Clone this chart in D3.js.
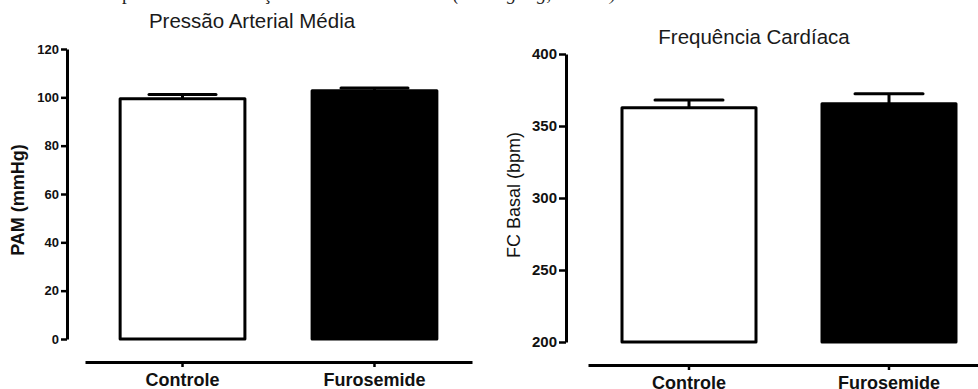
<!DOCTYPE html>
<html>
<head>
<meta charset="utf-8">
<script src="https://cdn.jsdelivr.net/npm/d3@7"></script>
<style>
  html, body { margin: 0; padding: 0; background: #fff; }
  svg { display: block; }
</style>
</head>
<body>
<svg id="chart" width="978" height="389"></svg>
<script>
// ---- data ----
const categories = ["Controle", "Furosemide"];
const pamMean = [99.4, 102.7];
const pamSem = [1.8, 1.2];
const fcMean = [362.7, 365.4];
const fcSem = [5.4, 7.0];
const pamTicks = [0, 20, 40, 60, 80, 100, 120];
const fcTicks = [200, 250, 300, 350, 400];
const barFills = ["#ffffff", "#000000"];
const titles = ["Pressão Arterial Média", "Frequência Cardíaca"];
const yLabels = ["PAM (mmHg)", "FC Basal (bpm)"];

const svg = d3.select("#chart");
const font = "'Liberation Sans', Arial, sans-serif";

// cropped caption line at the very top (only descenders visible, as in the reference)
const cap = svg.append("text").attr("y", -0.5)
  .attr("font-family", "'Liberation Serif', 'Times New Roman', serif")
  .attr("font-size", 19).attr("fill", "#222");
[["p", 122, "normal"], ["ç", 263, "normal"], ["(", 453, "italic"],
 ["g", 507, "italic"], ["g,", 537, "italic"], [")", 610, "italic"]]
  .forEach(([t, x, s]) => cap.append("tspan").attr("x", x).attr("font-style", s).text(t));

const panels = [
  { mean: pamMean, sem: pamSem, ticks: pamTicks, domain: [0, 120], yRange: [339, 49],
    axisX: 67, xRange: [85, 472], xAxisY: 362, pi: 0.35, po: 0.183,
    tickFont: 13, tickLen: 6, title: titles[0], titleX: 252, titleY: 28,
    yLabel: yLabels[0], yLabelX: 24, yLabelY: 200, yLabelWeight: "bold", capW: 67 },
  { mean: fcMean, sem: fcSem, ticks: fcTicks, domain: [200, 400], yRange: [342, 54],
    axisX: 566, xRange: [588, 990], xAxisY: 365, pi: 0.33, po: 0.17,
    tickFont: 15, tickLen: 7, title: titles[1], titleX: 754, titleY: 44,
    yLabel: yLabels[1], yLabelX: 520, yLabelY: 195, yLabelWeight: "normal", capW: 68 }
];

panels.forEach(p => {
  const g = svg.append("g");
  const y = d3.scaleLinear().domain(p.domain).range(p.yRange);
  const x = d3.scaleBand().domain(categories).range(p.xRange)
    .paddingInner(p.pi).paddingOuter(p.po);

  // title
  g.append("text").attr("x", p.titleX).attr("y", p.titleY)
    .attr("text-anchor", "middle").attr("font-family", font)
    .attr("font-size", 20.5).attr("fill", "#1a1a1a").text(p.title);

  // y label
  g.append("text")
    .attr("transform", `translate(${p.yLabelX},${p.yLabelY}) rotate(-90)`)
    .attr("text-anchor", "middle").attr("font-family", font)
    .attr("font-size", 18).attr("font-weight", p.yLabelWeight)
    .attr("fill", "#111").text(p.yLabel);

  // bars
  const bw = x.bandwidth();
  g.selectAll("rect.bar").data(categories).join("rect")
    .attr("class", "bar")
    .attr("x", c => x(c))
    .attr("width", bw)
    .attr("y", (c, i) => y(p.mean[i]))
    .attr("height", (c, i) => y(p.domain[0]) - y(p.mean[i]))
    .attr("fill", (c, i) => barFills[i])
    .attr("stroke", "#000").attr("stroke-width", 3)
    .attr("stroke-linejoin", "round");

  // error bars (upper only)
  categories.forEach((c, i) => {
    const cx = x(c) + bw / 2;
    const top = y(p.mean[i] + p.sem[i]);
    g.append("line").attr("x1", cx).attr("x2", cx)
      .attr("y1", y(p.mean[i])).attr("y2", top)
      .attr("stroke", "#000").attr("stroke-width", 3);
    g.append("line").attr("x1", cx - p.capW / 2).attr("x2", cx + p.capW / 2)
      .attr("y1", top).attr("y2", top)
      .attr("stroke", "#000").attr("stroke-width", 3).attr("stroke-linecap", "round");
  });

  // y axis
  const ya = g.append("g").attr("transform", `translate(${p.axisX},0)`)
    .call(d3.axisLeft(y).tickValues(p.ticks).tickSize(p.tickLen).tickSizeOuter(0).tickPadding(2));
  ya.select(".domain").attr("stroke-width", 3);
  ya.selectAll(".tick line").attr("stroke-width", 2.5);
  ya.selectAll(".tick text").attr("font-family", font).attr("font-size", p.tickFont)
    .attr("font-weight", "bold").attr("fill", "#111");

  // x axis
  const xa = g.append("g").attr("transform", `translate(0,${p.xAxisY})`)
    .call(d3.axisBottom(x).tickSize(5).tickSizeOuter(0).tickPadding(6));
  xa.select(".domain").attr("stroke-width", 3);
  xa.selectAll(".tick line").attr("stroke-width", 2.5);
  xa.selectAll(".tick text").attr("font-family", font).attr("font-size", 18)
    .attr("font-weight", "bold").attr("fill", "#111");
});
</script>
</body>
</html>
